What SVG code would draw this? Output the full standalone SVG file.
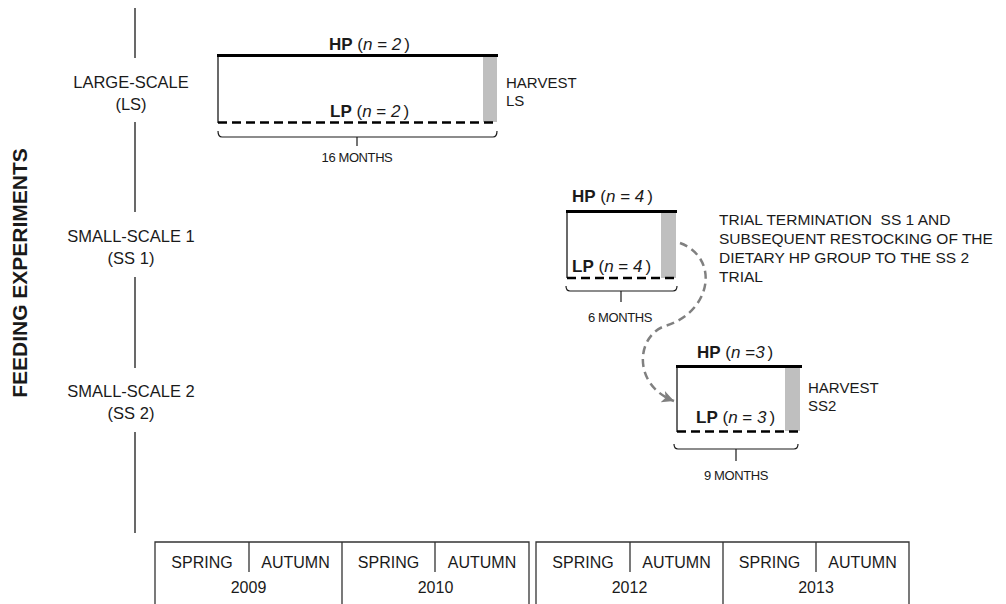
<svg xmlns="http://www.w3.org/2000/svg" width="1006" height="604" viewBox="0 0 1006 604">
<style>
text{font-family:"Liberation Sans",Arial,sans-serif;fill:#1a1a1a}
.lbl{font-size:16.5px;text-anchor:middle}
.hp{font-size:17px}
.b{font-weight:bold}
.i{font-style:italic}
.mo{font-size:13px;text-anchor:middle;letter-spacing:-0.4px}
.note{font-size:15px}
.note2{font-size:15.5px}
.tbl{font-size:16px;text-anchor:middle}
.axis{stroke:#1a1a1a;stroke-width:1.3;fill:none}
.top{stroke:#000;stroke-width:3.2;fill:none}
.side{stroke:#1a1a1a;stroke-width:1.3;fill:none}
.dash{stroke:#000;stroke-width:2.6;stroke-dasharray:9 5;fill:none}
.bar{fill:#bfbfbf}
.brace{stroke:#1a1a1a;stroke-width:1.2;fill:none}
.grid{stroke:#333;stroke-width:1.3;fill:none}
</style>
<defs>
<marker id="ah" markerUnits="userSpaceOnUse" markerWidth="14" markerHeight="14" refX="12" refY="6" orient="auto">
<path d="M0,0 L12,6 L0,12 L3,6 Z" fill="#808080"/>
</marker>
</defs>

<g id="axis">
<text x="27" y="273" transform="rotate(-90 27 273)" text-anchor="middle" style="font-size:21px;font-weight:bold">FEEDING EXPERIMENTS</text>
<path class="axis" d="M135,8V58M135,122V212M135,277V368M135,432V533"/>
<text class="lbl" x="131" y="88">LARGE-SCALE</text>
<text class="lbl" x="131" y="110">(LS)</text>
<text class="lbl" x="131" y="242">SMALL-SCALE 1</text>
<text class="lbl" x="131" y="264">(SS 1)</text>
<text class="lbl" x="131" y="397">SMALL-SCALE 2</text>
<text class="lbl" x="131" y="419">(SS 2)</text>
</g>

<g id="ls">
<rect class="bar" x="483" y="57" width="14" height="65"/>
<path class="side" d="M218,55V123"/>
<path class="top" d="M217,55.5H498"/>
<path class="dash" d="M218,122.5H497"/>
<text class="hp" x="329" y="50"><tspan class="b">HP</tspan> (<tspan class="i">n</tspan> = <tspan class="i">2</tspan><tspan dx="3">)</tspan></text>
<text class="hp" x="330" y="117"><tspan class="b">LP</tspan> (<tspan class="i">n</tspan> = <tspan class="i">2</tspan><tspan dx="3">)</tspan></text>
<text class="note" x="506" y="88">HARVEST</text>
<text class="note" x="506" y="106">LS</text>
<path class="brace" d="M218,131Q218,137 222,137H493Q497,137 497,131M357,137V146"/>
<text class="mo" x="357" y="162">16 MONTHS</text>
</g>

<g id="ss1">
<rect class="bar" x="661" y="213" width="15" height="65"/>
<path class="side" d="M567,211V278"/>
<path class="top" d="M566,211.5H677"/>
<path class="dash" d="M567,278H677"/>
<text class="hp" x="572" y="202"><tspan class="b">HP</tspan> (<tspan class="i">n</tspan> = <tspan class="i">4</tspan><tspan dx="3">)</tspan></text>
<text class="hp" x="572" y="272"><tspan class="b">LP</tspan> (<tspan class="i">n</tspan> = <tspan class="i">4</tspan><tspan dx="3">)</tspan></text>
<path class="brace" d="M566,286Q566,291 570,291H673Q677,291 677,286M621,291V302"/>
<text class="mo" x="620" y="322">6 MONTHS</text>
<text class="note2" x="719" y="225" xml:space="preserve">TRIAL TERMINATION  SS 1 AND</text>
<text class="note2" x="719" y="244">SUBSEQUENT RESTOCKING OF THE</text>
<text class="note2" x="719" y="263">DIETARY HP GROUP TO THE SS 2</text>
<text class="note2" x="719" y="282">TRIAL</text>
</g>

<g id="ss2">
<rect class="bar" x="785" y="368" width="15" height="63"/>
<path class="side" d="M677,366V432"/>
<path class="top" d="M676,366.5H802"/>
<path class="dash" d="M677,431.5H801"/>
<text class="hp" x="697" y="358"><tspan class="b">HP</tspan> (<tspan class="i">n</tspan> =<tspan class="i">3</tspan><tspan dx="3">)</tspan></text>
<text class="hp" x="696" y="423"><tspan class="b">LP</tspan> (<tspan class="i">n</tspan> = <tspan class="i">3</tspan><tspan dx="3">)</tspan></text>
<text class="note" x="808" y="393">HARVEST</text>
<text class="note" x="808" y="411">SS2</text>
<path class="brace" d="M674,444Q674,449 678,449H794Q798,449 798,444M736,449V461"/>
<text class="mo" x="736" y="480">9 MONTHS</text>
</g>

<g id="connectors">
<path d="M680,243C720,258 712,312 665,326C636,336 632,385 674,401" fill="none" stroke="#808080" stroke-width="2.5" stroke-dasharray="8 5" marker-end="url(#ah)"/>
</g>

<g id="timeline">
<path class="grid" d="M155,604V542H529V604M342,542V604M249,542V572M435,542V572"/>
<path class="grid" d="M536,604V542H909V604M723,542V604M630,542V572M816,542V572"/>
<text class="tbl" x="202" y="568">SPRING</text>
<text class="tbl" x="295.5" y="568">AUTUMN</text>
<text class="tbl" x="388.5" y="568">SPRING</text>
<text class="tbl" x="482" y="568">AUTUMN</text>
<text class="tbl" x="583" y="568">SPRING</text>
<text class="tbl" x="676.5" y="568">AUTUMN</text>
<text class="tbl" x="769.5" y="568">SPRING</text>
<text class="tbl" x="862.5" y="568">AUTUMN</text>
<text class="tbl" x="248.5" y="593">2009</text>
<text class="tbl" x="435.5" y="593">2010</text>
<text class="tbl" x="629.5" y="593">2012</text>
<text class="tbl" x="816" y="593">2013</text>
</g>
</svg>
